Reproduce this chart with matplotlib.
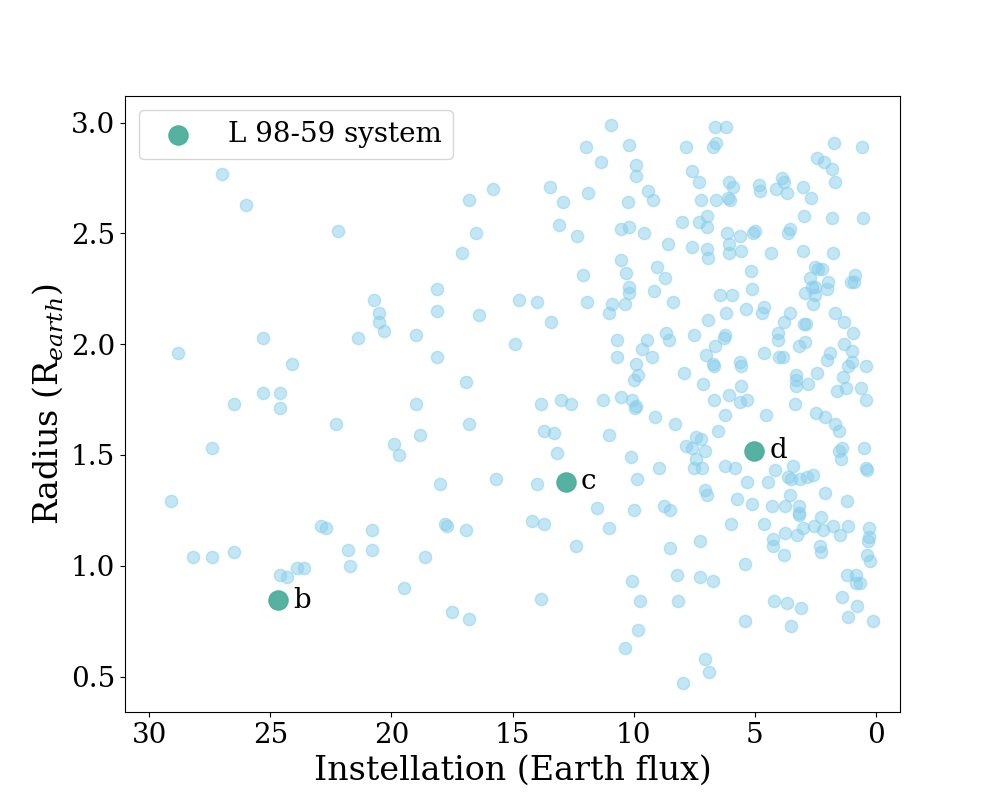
import numpy as np
import matplotlib
matplotlib.use('Agg')
import matplotlib.pyplot as plt

plt.rcParams['font.family'] = ['DejaVu Serif']
plt.rcParams['mathtext.fontset'] = 'dejavuserif'

# 背景行星：入射流量 (Earth flux) 与半径 (R_earth)
flux = [
    29.1, 28.8, 27.0, 26.0, 27.4, 26.5, 28.2, 27.4, 26.5, 25.3, 25.3, 24.6, 24.6, 24.1,
    24.6, 24.3, 23.9, 23.6, 22.2, 22.3, 22.9, 22.7, 21.4, 21.8, 21.7, 20.7, 20.5, 20.5,
    20.3, 20.8, 20.8, 19.9, 19.7, 19.5, 19.0, 19.0, 18.8, 18.6, 18.1, 18.1, 18.1, 18.0,
    17.8, 17.7, 17.5, 17.1, 16.8, 16.5, 16.4, 16.9, 16.8, 16.9, 16.8, 15.8, 15.7, 14.9,
    14.73, 13.99, 13.45, 13.41, 12.92, 13.08, 13.83, 13.70, 13.29, 13.17, 13.0, 12.6, 14.20, 13.70,
    13.99, 13.83, 12.38, 12.34,
    # 中部
    10.94, 11.97, 10.19, 11.35, 9.90, 9.90, 7.84, 7.59, 7.30, 11.89, 10.24, 9.41, 9.20, 7.22,
    10.52, 10.19, 9.57, 8.01, 7.30, 6.97, 6.97, 8.58, 7.59, 6.97, 6.93, 10.52, 10.32, 9.04,
    8.71, 12.09, 10.19, 10.19, 9.16, 11.93, 10.90, 10.36, 11.02, 8.38, 6.93, 10.69, 9.45, 8.67,
    8.54, 7.51, 9.66, 10.69, 9.24, 9.90, 9.82, 9.99, 7.92, 7.02, 7.14, 11.27, 10.52, 10.07,
    9.90,
    # 右上
    6.64, 6.19, 6.60, 6.73, 1.73, 0.58, 2.43, 2.15, 1.82, 1.69, 6.07, 5.90, 4.83, 4.79,
    3.88, 3.80, 4.13, 3.67, 3.01, 2.68, 6.60, 6.11, 6.03, 2.97, 1.82, 0.54, 6.15, 5.61,
    5.08, 4.99, 3.63, 3.55, 6.07, 6.07, 5.57, 4.33, 3.01, 1.77, 5.16, 2.52, 2.39, 2.23,
    2.72, 0.87, 1.03, 0.91, 1.98, 2.02, 5.12, 2.64, 2.52, 2.93, 2.52, 2.60, 6.44, 5.94,
    5.37, 4.62, 4.70, 1.69, 1.32, 0.95, 6.19, 3.80, 3.55, 2.97, 2.89, 4.04, 4.04, 2.93,
    3.18, 1.32, 0.99, 6.23, 6.27, 6.64, 6.73, 6.69, 5.61, 5.57, 4.62, 3.99, 3.84, 1.90,
    2.02, 1.16, 0.99, 0.41, 2.43, 3.30, 3.30, 3.30, 2.81, 1.36, 1.61, 1.24, 0.62, 0.41,
    5.57, 6.69, 6.07, 5.61, 5.32, 3.34,
    # 中下
    9.95, 9.12, 8.30, 11.02, 10.11, 8.96, 7.43, 7.22, 7.84, 7.59, 7.06, 7.43, 7.51, 7.18,
    9.86, 7.06, 6.97, 11.51, 9.99, 8.75, 8.50, 11.02, 8.50, 7.26, 10.07, 8.21, 7.26, 9.74,
    8.17, 9.82, 10.36, 7.06, 6.89, 7.97,
    # 右下
    6.23, 4.54, 2.48, 2.10, 1.69, 1.53, 6.52, 1.53, 1.40, 1.44, 0.50, 6.23, 5.82, 4.17,
    3.43, 5.32, 4.46, 3.63, 3.51, 3.14, 2.85, 2.60, 0.41, 0.37, 5.74, 5.12, 4.29, 3.76,
    3.55, 3.18, 3.18, 3.18, 2.10, 1.20, 5.98, 4.62, 3.76, 3.26, 3.01, 2.56, 2.19, 2.27,
    1.77, 1.49, 1.16, 0.29, 0.29, 0.33, 4.25, 4.25, 3.80, 2.31, 2.27, 0.37, 0.25, 5.41,
    6.73, 1.20, 0.83, 0.83, 0.66, 1.40, 4.21, 3.67, 3.10, 0.78, 1.16, 0.12, 5.41, 3.51,
]
radius = [
    1.29, 1.96, 2.77, 2.63, 1.53, 1.73, 1.04, 1.04, 1.06, 2.03, 1.78, 1.78, 1.71, 1.91,
    0.96, 0.95, 0.99, 0.99, 2.51, 1.64, 1.18, 1.17, 2.03, 1.07, 1.00, 2.20, 2.14, 2.10,
    2.06, 1.16, 1.07, 1.55, 1.50, 0.90, 2.04, 1.73, 1.59, 1.04, 2.25, 2.15, 1.94, 1.37,
    1.19, 1.18, 0.79, 2.41, 2.65, 2.50, 2.13, 1.83, 1.64, 1.16, 0.76, 2.70, 1.39, 2.00,
    2.20, 2.19, 2.71, 2.10, 2.64, 2.54, 1.73, 1.61, 1.60, 1.51, 1.75, 1.73, 1.20, 1.19,
    1.37, 0.85, 1.09, 2.49,
    # 中部
    2.99, 2.89, 2.90, 2.82, 2.81, 2.76, 2.89, 2.78, 2.73, 2.68, 2.64, 2.69, 2.65, 2.65,
    2.52, 2.53, 2.50, 2.55, 2.55, 2.58, 2.53, 2.45, 2.44, 2.43, 2.39, 2.38, 2.32, 2.35,
    2.30, 2.31, 2.26, 2.23, 2.24, 2.19, 2.18, 2.18, 2.14, 2.19, 2.11, 2.02, 2.02, 2.05,
    2.02, 2.04, 1.98, 1.94, 1.94, 1.91, 1.86, 1.84, 1.87, 1.95, 1.82, 1.75, 1.76, 1.75,
    1.72,
    # 右上
    2.98, 2.98, 2.91, 2.89, 2.91, 2.89, 2.84, 2.82, 2.79, 2.73, 2.73, 2.71, 2.72, 2.69,
    2.75, 2.73, 2.70, 2.68, 2.71, 2.66, 2.65, 2.66, 2.65, 2.58, 2.57, 2.57, 2.50, 2.49,
    2.50, 2.51, 2.50, 2.52, 2.45, 2.41, 2.42, 2.41, 2.42, 2.41, 2.33, 2.35, 2.34, 2.34,
    2.30, 2.31, 2.28, 2.28, 2.28, 2.25, 2.25, 2.26, 2.26, 2.23, 2.22, 2.18, 2.22, 2.22,
    2.16, 2.17, 2.14, 2.14, 2.10, 2.05, 2.14, 2.10, 2.14, 2.09, 2.09, 2.05, 2.02, 2.01,
    1.99, 2.00, 1.97, 2.04, 2.03, 1.99, 1.91, 1.90, 1.92, 1.90, 1.96, 1.94, 1.94, 1.96,
    1.93, 1.90, 1.92, 1.90, 1.87, 1.86, 1.84, 1.81, 1.82, 1.85, 1.79, 1.80, 1.80, 1.75,
    1.81, 1.75, 1.77, 1.74, 1.75, 1.73,
    # 中下
    1.71, 1.67, 1.64, 1.59, 1.49, 1.44, 1.58, 1.57, 1.54, 1.53, 1.52, 1.48, 1.44, 1.44,
    1.39, 1.34, 1.32, 1.26, 1.25, 1.27, 1.25, 1.17, 1.08, 1.11, 0.93, 0.96, 0.95, 0.84,
    0.84, 0.71, 0.63, 0.58, 0.52, 0.47,
    # 右下
    1.68, 1.68, 1.69, 1.67, 1.64, 1.61, 1.61, 1.52, 1.53, 1.48, 1.53, 1.45, 1.44, 1.43,
    1.45, 1.38, 1.38, 1.40, 1.39, 1.39, 1.40, 1.41, 1.44, 1.43, 1.30, 1.28, 1.27, 1.27,
    1.32, 1.27, 1.24, 1.23, 1.33, 1.29, 1.19, 1.19, 1.15, 1.14, 1.17, 1.18, 1.16, 1.22,
    1.18, 1.14, 1.18, 1.17, 1.13, 1.11, 1.12, 1.09, 1.05, 1.09, 1.06, 1.05, 1.02, 1.01,
    0.93, 0.96, 0.96, 0.92, 0.92, 0.86, 0.84, 0.83, 0.81, 0.82, 0.77, 0.75, 0.75, 0.73,
]

# L 98-59 系统
sys_names = ['b', 'c', 'd']
sys_flux = [24.7, 12.8, 5.03]
sys_radius = [0.845, 1.38, 1.52]

fig, ax = plt.subplots(figsize=(10, 8), dpi=100)
ax.scatter(flux, radius, s=78, color='#87CEEB', alpha=0.5)
ax.scatter(sys_flux, sys_radius, s=190, color='#4DAE9B', alpha=0.95,
           label='L 98-59 system', zorder=3)
for n, fx, r in zip(sys_names, sys_flux, sys_radius):
    ax.annotate(n, (fx, r), xytext=(11, 0), textcoords='offset points',
                ha='left', va='center', fontsize=20)

ax.set_xlim(31, -1)
ax.set_ylim(0.34, 3.12)
ax.set_xlabel('Instellation (Earth flux)', fontsize=24)
ax.set_ylabel('Radius (R$_{earth}$)', fontsize=24)
ax.tick_params(labelsize=20)
ax.legend(loc='upper left', fontsize=20)

fig.savefig('out.png')
